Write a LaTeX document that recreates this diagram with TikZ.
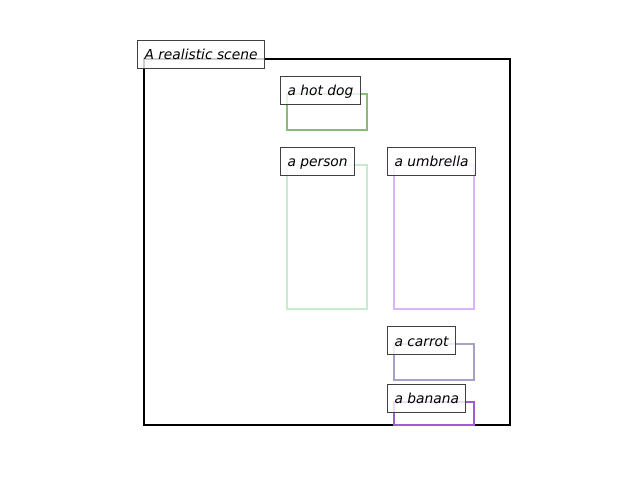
\documentclass[tikz,border=0pt]{standalone}
\usepackage{fontspec}
\setmainfont{DejaVu Sans}
\begin{document}
\begin{tikzpicture}[x=0.75pt,y=-0.75pt,
  bbox/.style={line width=1.9pt},
  lbl/.style={anchor=west, draw={rgb,255:red,64;green,64;blue,64}, line width=0.75pt,
    fill=white, fill opacity=0.8, text opacity=1, inner xsep=5.25pt, inner ysep=0pt,
    text height=10pt, text depth=1.2pt,
    minimum height=21pt, font=\fontsize{10.35pt}{12pt}\selectfont\itshape}]
\definecolor{hotdog}{RGB}{140,187,120}
\definecolor{person}{RGB}{200,234,208}
\definecolor{umbrella}{RGB}{220,180,248}
\definecolor{carrot}{RGB}{168,160,200}
\definecolor{banana}{RGB}{158,92,214}
\useasboundingbox (0,0) rectangle (640,480);
\draw[line width=1.5pt, black] (144,59) rectangle (510,425);
\draw[bbox, hotdog] (287,94) rectangle (367,130);
\draw[bbox, person] (287,165) rectangle (367,309);
\draw[bbox, umbrella] (394,165) rectangle (474,309);
\draw[bbox, carrot] (394,344) rectangle (474,380);
\draw[bbox, banana] (394,402) rectangle (474,425);
\node[lbl] (scene) at (137,54) {A realistic scene};
\node[lbl] (hotdogl) at (280,90) {a hot dog};
\node[lbl] (personl) at (280,161) {a person};
\node[lbl] (umbrellal) at (387,161) {a umbrella};
\node[lbl] (carrotl) at (387,340.5) {a carrot};
\node[lbl] (bananal) at (387,398) {a banana};
\end{tikzpicture}
\end{document}
